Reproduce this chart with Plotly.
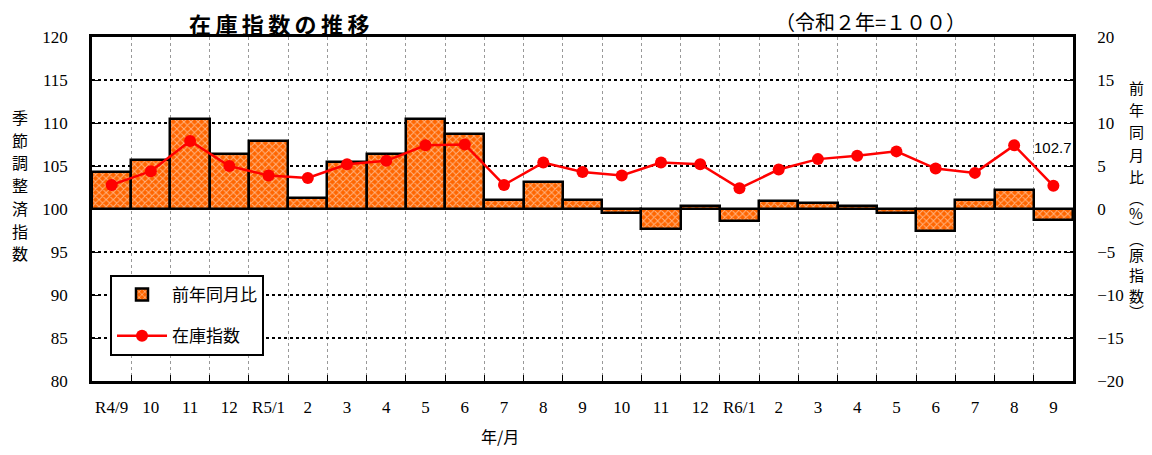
import plotly.graph_objects as go

# 年/月 labels
months = ["R4/9", "10", "11", "12", "R5/1", "2", "3", "4", "5", "6", "7", "8", "9",
          "10", "11", "12", "R6/1", "2", "3", "4", "5", "6", "7", "8", "9"]

# 前年同月比 (%)（原指数）
yoy = [4.3, 5.7, 10.5, 6.4, 7.9, 1.3, 5.5, 6.4, 10.5, 8.7, 1.1, 3.1, 1.1,
       -0.5, -2.3, 0.3, -1.4, 0.9, 0.7, 0.4, -0.5, -2.6, 1.1, 2.2, -1.3]

# 在庫指数 (季節調整済指数, 令和2年=100)
index = [102.8, 104.4, 107.9, 105.0, 103.9, 103.6, 105.2, 105.6, 107.4, 107.5, 102.8, 105.4, 104.3,
         103.9, 105.4, 105.2, 102.4, 104.6, 105.8, 106.2, 106.7, 104.7, 104.2, 107.4, 102.7]

# vertical axis titles, one character per line
left_title = list("季節調整済指数")
right_title = ["前", "年", "同", "月", "比", "︵", "%", "︶", "︵", "原", "指", "数", "︶"]

JP = "Noto Sans CJK JP"
SERIF = "Liberation Serif"

pos = list(range(len(months)))
bounds = [i + 0.5 for i in pos[:-1]]

fig = go.Figure()

fig.add_trace(
    go.Bar(
        x=pos,
        y=yoy,
        name="前年同月比",
        yaxis="y",
        marker=dict(
            color="#FF6600",
            line=dict(color="black", width=2.5),
            pattern=dict(shape="x", fgcolor="#FFFFFF", bgcolor="#FF6600", size=5, solidity=0.35),
        ),
        legendgroup="a",
    )
)

fig.add_trace(
    go.Scatter(
        x=pos,
        y=index,
        name="在庫指数",
        yaxis="y2",
        mode="lines+markers",
        line=dict(color="#FF0000", width=2.5),
        marker=dict(color="#FF0000", size=12),
        legendgroup="b",
    )
)

# label for latest value
fig.add_annotation(
    x=pos[-1], y=index[-1], xref="x", yref="y2",
    text=f"{index[-1]}", showarrow=False, yshift=38, xshift=0,
    font=dict(family="Liberation Sans", size=15, color="black"),
)

# titles (paper = plot area: 981 x 344 px, page coords below)
W, H = 981, 344


def px(x):
    return (x - 92) / W


def py(y):
    return (381 - y) / H


fig.add_annotation(
    xref="paper", yref="paper", x=px(279), y=py(23), xanchor="center", yanchor="middle",
    text="<b>在\u2009庫\u2009指\u2009数\u2009の\u2009推\u2009移</b>", showarrow=False,
    font=dict(family=JP, size=22, color="black"), borderpad=0,
)
fig.add_annotation(
    xref="paper", yref="paper", x=px(870), y=py(22), xanchor="center", yanchor="middle",
    text="（令和２年=１００）", showarrow=False, font=dict(family=JP, size=20, color="black"),
    borderpad=0,
)

for i, ch in enumerate(left_title):
    fig.add_annotation(
        xref="paper", yref="paper", x=px(20), y=py(117 + i * 22.7), xanchor="center", yanchor="middle",
        text=ch, showarrow=False, borderpad=0, font=dict(family=JP, size=16, color="black"),
    )

right_y = [87, 109, 131, 154, 177, 197, 212, 227, 239, 254, 274, 295, 311]
for ch, yy in zip(right_title, right_y):
    fig.add_annotation(
        xref="paper", yref="paper", x=px(1136), y=py(yy), xanchor="center", yanchor="middle",
        text=ch, showarrow=False, borderpad=0, font=dict(family=JP, size=15, color="black"),
    )

fig.add_annotation(
    xref="paper", yref="paper", x=px(500), y=py(436), xanchor="center", yanchor="middle",
    text="年/月", showarrow=False, borderpad=0, font=dict(family=JP, size=16, color="black"),
)

# page body has an 8px margin all round, so the figure is shrunk to fit the window
fig.update_layout(
    width=1136,
    height=439,
    margin=dict(l=84, r=71, t=29, b=66),
    plot_bgcolor="white",
    paper_bgcolor="white",
    bargap=0,
    showlegend=True,
    legend=dict(
        x=px(110), y=py(275), xanchor="left", yanchor="top",
        bgcolor="white", bordercolor="black", borderwidth=2,
        font=dict(family=JP, size=17, color="black"),
        tracegroupgap=16,
        itemwidth=50,
    ),
    xaxis=dict(
        range=[-0.5, len(months) - 0.5],
        tickmode="array",
        tickvals=pos,
        ticktext=months,
        tickangle=0,
        ticks="",
        showgrid=False,
        zeroline=False,
        minor=dict(
            tickmode="array",
            tickvals=bounds,
            ticks="inside",
            ticklen=6,
            tickcolor="black",
            showgrid=True,
            gridcolor="#999999",
            griddash="dot",
            gridwidth=1,
        ),
        showline=True,
        linecolor="black",
        linewidth=2.5,
        mirror=True,
        tickfont=dict(family=SERIF, size=17, color="black"),
        ticklabelstandoff=9,
    ),
    yaxis=dict(
        side="right",
        range=[-20, 20],
        dtick=5,
        ticks="inside",
        ticklen=6,
        tickcolor="black",
        showgrid=True,
        gridcolor="black",
        griddash="dot",
        gridwidth=1.5,
        zeroline=False,
        showline=True,
        linecolor="black",
        linewidth=2.5,
        tickfont=dict(family=SERIF, size=17, color="black"),
        ticklabelstandoff=18,
    ),
    yaxis2=dict(
        side="left",
        overlaying="y",
        range=[80, 120],
        dtick=5,
        ticks="inside",
        ticklen=6,
        tickcolor="black",
        showgrid=False,
        zeroline=False,
        showline=True,
        linecolor="black",
        linewidth=2.5,
        tickfont=dict(family=SERIF, size=17, color="black"),
        ticklabelstandoff=18,
    ),
)

fig.write_html("out.html")
